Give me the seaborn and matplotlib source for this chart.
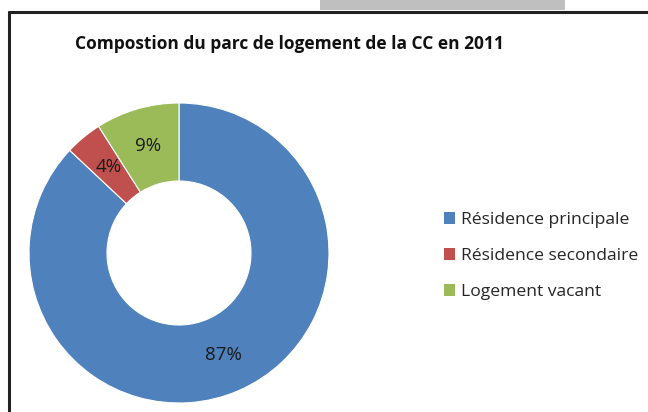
import matplotlib
matplotlib.use("Agg")
import matplotlib.pyplot as plt
import seaborn as sns
from matplotlib.lines import Line2D
from matplotlib.patches import Rectangle, Patch

sns.set_theme(style="white")
plt.rcParams['font.family'] = ['Open Sans', 'DejaVu Sans']

# Data
categories = ["Résidence principale", "Résidence secondaire", "Logement vacant"]
shares = [87, 4, 9]
colors = ["#4F81BD", "#C0504D", "#9BBB59"]
title = "Compostion du parc de logement de la CC en 2011"

W, H = 648, 412
fig = plt.figure(figsize=(W / 100, H / 100), dpi=100)

# donut axes: centre ~(179, 253) px, radius ~150 px
cx, cy, r = 179, 253, 150
ax = fig.add_axes([(cx - r) / W, (H - cy - r) / H, 2 * r / W, 2 * r / H])

wedges, texts, autotexts = ax.pie(
    shares, colors=colors, startangle=90, counterclock=False,
    autopct="%d%%", pctdistance=0.74,
    wedgeprops=dict(width=0.52, edgecolor="white", linewidth=0.8),
    textprops=dict(fontsize=13.5, color="#1a1a1a"),
)
ax.set_xlim(-1, 1)
ax.set_ylim(-1, 1)
ax.set_aspect("equal")
ax.axis("off")

fig.text(75 / W, 1 - 44 / H, title, fontsize=12.5, fontweight="bold",
         va="center", ha="left", color="#111111")

handles = [Patch(facecolor=c, edgecolor="none") for c in colors]
fig.legend(handles, categories, loc="center left",
           bbox_to_anchor=(437 / W, 1 - 256 / H), frameon=False,
           fontsize=12.6, handlelength=0.65, handleheight=0.65,
           handletextpad=0.3, labelspacing=1.15, borderaxespad=0)

# frame of the chart area and the grey strip above it
fig.add_artist(Line2D([9 / W, 1], [1 - 12 / H, 1 - 12 / H], color="#222222", lw=2.2))
fig.add_artist(Line2D([9 / W, 9 / W], [0, 1 - 12 / H], color="#222222", lw=2.2))
fig.add_artist(Rectangle((320 / W, 1 - 10 / H), 245 / W, 10 / H,
                         transform=fig.transFigure, color="#BFBFBF", lw=0))

fig.savefig("out.png", dpi=100)
